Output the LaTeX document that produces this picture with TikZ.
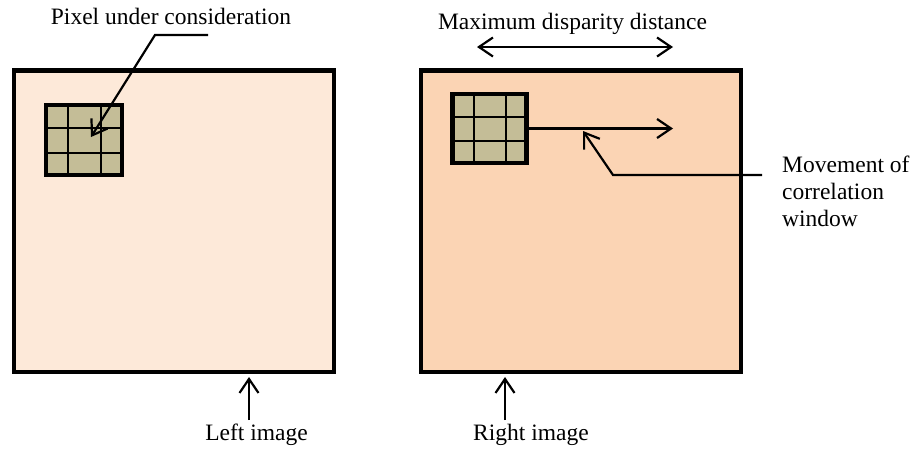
\documentclass[tikz,border=0pt]{standalone}
\usepackage{fontspec}
\setmainfont{Liberation Serif}
\usetikzlibrary{arrows.meta,calc}
\definecolor{leftfill}{HTML}{FDE9D9}
\definecolor{rightfill}{HTML}{FBD4B4}
\definecolor{gridfill}{HTML}{C4BD97}
\begin{document}
\begin{tikzpicture}[x=1pt,y=-1pt,
  imgbox/.style={draw=black, line width=4.5pt, minimum width=320pt, minimum height=301.5pt, inner sep=0pt, outer sep=0pt},
  gridbox/.style={draw=black, fill=gridfill, line width=4.3pt, inner sep=0pt, outer sep=0pt},
  gridline/.style={draw=black, line width=2pt},
  arr/.style={line width=2.2pt, -{Straight Barb[length=14pt,width=19pt]}},
  dblarr/.style={line width=2.2pt, {Straight Barb[length=14pt,width=19pt]}-{Straight Barb[length=14pt,width=19pt]}},
  lbl/.style={font=\fontsize{23.5}{27}\selectfont, inner sep=0pt}]
\useasboundingbox (0,0) rectangle (915,448);
% image boxes
\node[imgbox, fill=leftfill] (L) at (174,221.25) {};
\node[imgbox, fill=rightfill] (R) at (580.75,221.25) {};
% correlation windows
\node[gridbox, minimum width=76pt, minimum height=70pt] (LG) at (84,140) {};
\node[gridbox, minimum width=74pt, minimum height=69pt] (RG) at (489.5,128.5) {};
\foreach \g in {LG,RG}{
  \foreach \f in {0.29,0.72}{
    \draw[gridline] ($(\g.north west)!\f!(\g.north east)$) -- ($(\g.south west)!\f!(\g.south east)$);
  }
  \foreach \f in {0.335,0.685}{
    \draw[gridline] ($(\g.north west)!\f!(\g.south west)$) -- ($(\g.north east)!\f!(\g.south east)$);
  }
}
% labels
\node[lbl, anchor=base] (tPix) at (171,24) {Pixel under consideration};
\node[lbl, anchor=base] (tMax) at (572.5,29.5) {Maximum disparity distance};
\node[lbl, anchor=base] (tLeft) at (256.5,440) {Left image};
\node[lbl, anchor=base] (tRight) at (531,440) {Right image};
\node[lbl, align=left, anchor=north west] (tMov) at (782,156) {Movement of\\correlation\\window};
% connectors
\coordinate (pA) at (208,35);
\coordinate (pB) at (155,35);
\coordinate (pTip) at (91,137);
\draw[arr] (pA) -- (pB) -- (pTip);
\coordinate (dA) at (477,47);
\coordinate (dB) at (673,47);
\draw[dblarr] (dA) -- (dB);
\coordinate (hEnd) at (673,128.5);
\draw[arr] (RG.east) -- (hEnd);
\coordinate (mA) at (762,175);
\coordinate (mB) at (613,175);
\coordinate (mTip) at (583,131);
\draw[arr] (mA) -- (mB) -- (mTip);
\coordinate (lA) at (249,420);
\draw[arr] (lA) -- ($(L.south)+(75,5)$);
\coordinate (rA) at (505,420);
\draw[arr] (rA) -- ($(R.south)+(-75.75,5)$);
\end{tikzpicture}
\end{document}
